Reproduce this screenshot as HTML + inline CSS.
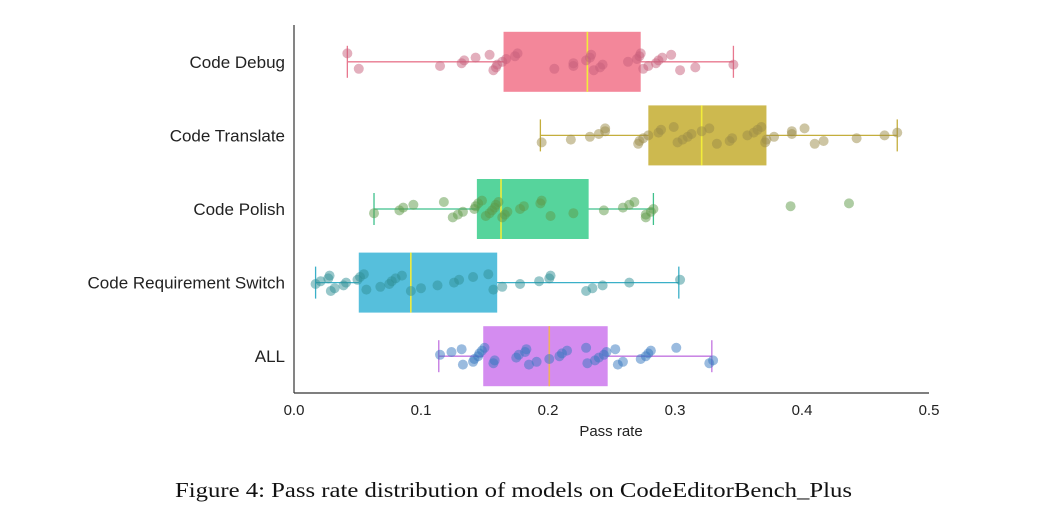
<!DOCTYPE html>
<html><head><meta charset="utf-8"><style>
html,body{margin:0;padding:0;background:#fff;}
svg{display:block;}
</style></head><body>
<svg id="chart" width="1048" height="519" viewBox="0 0 1048 519" xmlns="http://www.w3.org/2000/svg" font-family="Liberation Sans, Arial, sans-serif">
<g id="plot"></g>
</svg>
<script>
const categories = ["Code Debug","Code Translate","Code Polish","Code Requirement Switch","ALL"];
const q1 = [0.165,0.279,0.144,0.051,0.149];
const medians = [0.231,0.321,0.163,0.092,0.201];
const q3 = [0.273,0.372,0.232,0.160,0.247];
const whiskerLow = [0.042,0.194,0.063,0.017,0.114];
const whiskerHigh = [0.346,0.475,0.283,0.303,0.329];
const pointsDebug = [0.042,0.051,0.115,0.132,0.134,0.143,0.154,0.157,0.159,0.160,0.164,0.167,0.174,0.176,0.205,0.220,0.220,0.230,0.233,0.234,0.236,0.241,0.243,0.263,0.270,0.272,0.273,0.275,0.279,0.285,0.287,0.290,0.297,0.304,0.316,0.346];
const pointsTranslate = [0.195,0.218,0.233,0.240,0.245,0.245,0.271,0.272,0.275,0.279,0.287,0.289,0.299,0.302,0.306,0.310,0.313,0.321,0.327,0.333,0.343,0.345,0.357,0.362,0.365,0.368,0.371,0.372,0.378,0.392,0.392,0.402,0.410,0.417,0.443,0.465,0.475];
const pointsPolish = [0.063,0.083,0.086,0.094,0.118,0.125,0.129,0.133,0.142,0.143,0.145,0.148,0.151,0.154,0.156,0.158,0.159,0.161,0.164,0.166,0.168,0.178,0.181,0.194,0.195,0.202,0.220,0.244,0.259,0.264,0.268,0.277,0.277,0.281,0.283,0.391,0.437];
const pointsSwitch = [0.017,0.021,0.027,0.028,0.029,0.032,0.039,0.041,0.050,0.052,0.055,0.057,0.068,0.075,0.077,0.080,0.085,0.092,0.100,0.113,0.126,0.130,0.141,0.153,0.157,0.164,0.178,0.193,0.201,0.202,0.230,0.235,0.243,0.264,0.304];
const pointsAll = [0.115,0.124,0.132,0.133,0.141,0.142,0.145,0.146,0.148,0.150,0.157,0.158,0.175,0.177,0.182,0.183,0.185,0.191,0.201,0.209,0.211,0.215,0.230,0.231,0.237,0.240,0.244,0.246,0.253,0.255,0.259,0.273,0.277,0.279,0.281,0.301,0.327,0.330];
const allPoints = [pointsDebug,pointsTranslate,pointsPolish,pointsSwitch,pointsAll];
const xTicks = [0.0,0.1,0.2,0.3,0.4,0.5];
const xTickLabels = ["0.0","0.1","0.2","0.3","0.4","0.5"];

const boxFill = ["#f3879a","#cdb94f","#56d49c","#56bfdc","#d48cf0"];
const lineCol = ["#e8788f","#c4ae3c","#3fc08c","#3ab0c8","#c274e0"];
const ptCol = ["#c8607c","#9c8c48","#5e9a48","#2f8f96","#3578c0"];
const ns = "http://www.w3.org/2000/svg";
const X0=294, X1=929, Ytop=25, Ybot=393;
const xs = v => X0 + (v-0)/(0.5-0)*(X1-X0);
const rowH = (Ybot-Ytop)/categories.length;
const ys = i => Ytop + rowH*(i+0.5);
const g = document.getElementById('plot');
function mk(tag, attrs, parent){const e=document.createElementNS(ns,tag);for(const k in attrs)e.setAttribute(k,attrs[k]);(parent||g).appendChild(e);return e;}

categories.forEach((c,i)=>{
  const cy = ys(i), bh = 60;
  const gr = mk('g',{});
  
  
  const wl = mk('line',{x1:xs(whiskerLow[i]),x2:xs(whiskerHigh[i]),y1:cy,y2:cy,stroke:lineCol[i],'stroke-width':1.3},gr);
  
  
  [whiskerLow[i],whiskerHigh[i]].forEach(v=>{
    const cap = mk('line',{x1:xs(v),x2:xs(v),y1:cy-16,y2:cy+16,stroke:lineCol[i],'stroke-width':1.3},gr);
    
    
  });
  const box = mk('rect',{x:xs(q1[i]),y:cy-bh/2,width:xs(q3[i])-xs(q1[i]),height:bh,fill:boxFill[i]},gr);
  
  
  const med = mk('line',{x1:xs(medians[i]),x2:xs(medians[i]),y1:cy-bh/2,y2:cy+bh/2,stroke:i==4?'#f0b060':'#f2ec3a','stroke-width':1.6},gr);
  
  
  allPoints[i].forEach((v,j)=>{
    const jit = (((j*37+i*11)%13)-6)*1.4;
    const p = mk('circle',{cx:xs(v),cy:cy+jit,r:5,fill:ptCol[i],'fill-opacity':0.5},gr);
    
    
  });
  const lab = mk('text',{x:285,y:cy+6,'text-anchor':'end','font-size':17,fill:'#222'});
  lab.textContent = c;
  
  
});
const ya = mk('line',{x1:X0,x2:X0,y1:Ytop,y2:Ybot,stroke:'#333','stroke-width':1.2});


const xa = mk('line',{x1:X0,x2:X1,y1:Ybot,y2:Ybot,stroke:'#333','stroke-width':1.2});


xTicks.forEach((t,k)=>{
  const tl = mk('text',{x:xs(t),y:415,'text-anchor':'middle','font-size':15,fill:'#222'});
  tl.textContent = xTickLabels[k];
  
  
});
const xt = mk('text',{x:611,y:436,'text-anchor':'middle','font-size':15,fill:'#222'});
xt.textContent = 'Pass rate';


const cap = mk('text',{x:175,y:497,'font-size':21,'font-family':'Liberation Serif, serif',fill:'#111',textLength:677,lengthAdjust:'spacingAndGlyphs'});
cap.textContent = 'Figure 4: Pass rate distribution of models on CodeEditorBench_Plus';


</script>
</body></html>
